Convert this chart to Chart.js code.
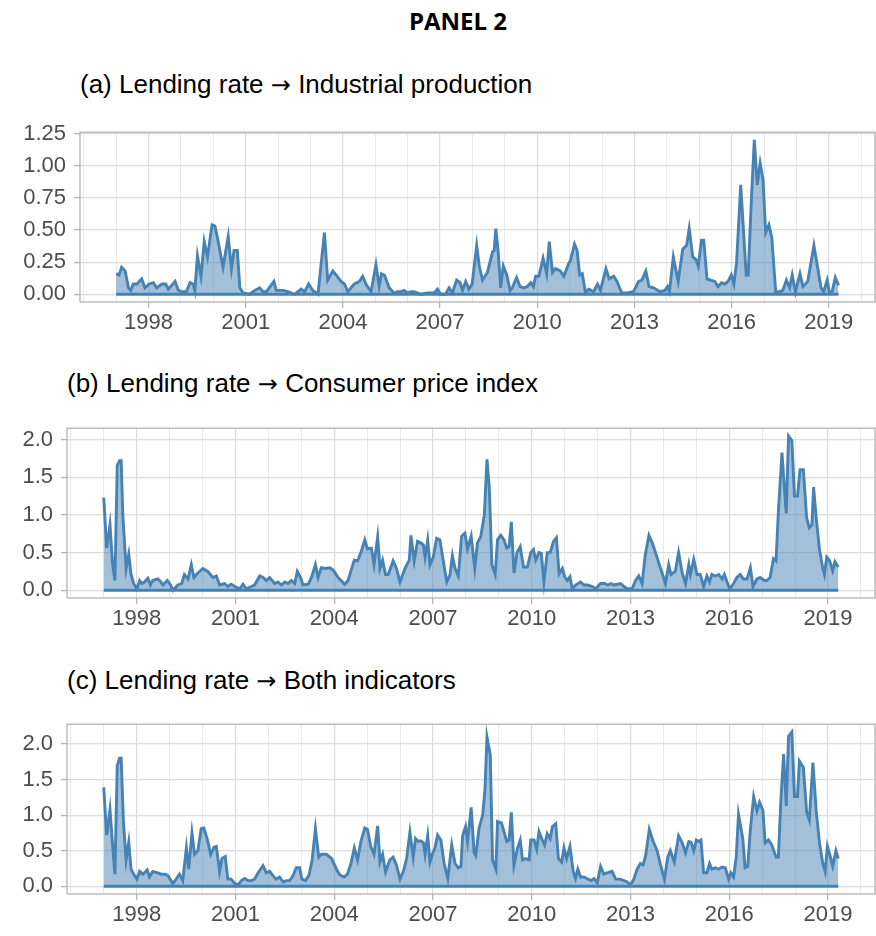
<!DOCTYPE html>
<html>
<head>
<meta charset="utf-8">
<script src="https://cdn.jsdelivr.net/npm/chart.js@4/dist/chart.umd.min.js"></script>
<style>
  body { margin: 0; background: #fff; width: 876px; height: 936px; position: relative; overflow: hidden; }
  .ttl { position: absolute; white-space: nowrap; font-family: "Liberation Sans", Arial, sans-serif; font-size: 26px; line-height: 26px; color: #000; }
  .ttl span { font-family: "DejaVu Sans", sans-serif; font-size: 24px; line-height: 26px; }
  #head { position: absolute; left: 358px; width: 200px; top: 9px; text-align: center; font-family: "Open Sans", sans-serif; font-weight: 700; font-size: 24px; line-height: 24px; }
  canvas { position: absolute; left: 0; }
</style>
</head>
<body>
<div id="head">PANEL 2</div>
<div class="ttl" style="left:80px;top:71px">(a) Lending rate <span>→</span> Industrial production</div>
<div class="ttl" style="left:67px;top:370px">(b) Lending rate <span>→</span> Consumer price index</div>
<div class="ttl" style="left:67px;top:667px">(c) Lending rate <span>→</span> Both indicators</div>
<canvas id="graf_a" width="876" height="231" style="top:111px"></canvas>
<canvas id="graf_b" width="876" height="231" style="top:407px"></canvas>
<canvas id="graf_c" width="876" height="231" style="top:703px"></canvas>
<script>
// x axis: a line each year, a label every 3 years
var gridYears = [1996,1997,1998,1999,2000,2001,2002,2003,2004,2005,2006,2007,2008,2009,2010,2011,2012,2013,2014,2015,2016,2017,2018,2019,2020];
var labelYears = [1998, 2001, 2004, 2007, 2010, 2013, 2016, 2019];

// (a) Lending rate -> Industrial production
var ipDates = [1997.00,1997.09,1997.17,1997.28,1997.38,1997.45,1997.53,1997.64,1997.79,1997.89,
  1998.02,1998.15,1998.25,1998.41,1998.53,1998.61,1998.82,1998.92,1999.02,1999.17,
  1999.28,1999.38,1999.43,1999.51,1999.62,1999.72,1999.82,1999.96,2000.05,2000.15,
  2000.30,2000.46,2000.56,2000.64,2000.74,2000.82,2000.92,2001.12,2001.28,2001.43,
  2001.53,2001.64,2001.87,2001.94,2002.15,2002.30,2002.51,2002.71,2002.82,2002.94,
  2003.07,2003.23,2003.43,2003.53,2003.69,2003.79,2003.94,2004.05,2004.15,2004.35,
  2004.51,2004.61,2004.71,2004.87,2005.02,2005.12,2005.19,2005.28,2005.43,2005.58,
  2005.69,2005.79,2005.89,2005.99,2006.10,2006.20,2006.41,2006.61,2006.82,2006.92,
  2007.02,2007.17,2007.28,2007.38,2007.51,2007.62,2007.69,2007.79,2007.89,2007.99,
  2008.13,2008.21,2008.31,2008.46,2008.62,2008.67,2008.72,2008.79,2008.87,2008.95,
  2009.06,2009.16,2009.23,2009.36,2009.47,2009.59,2009.69,2009.80,2009.88,2009.95,
  2010.05,2010.18,2010.29,2010.37,2010.47,2010.56,2010.72,2010.82,2010.97,2011.02,
  2011.15,2011.23,2011.31,2011.39,2011.49,2011.59,2011.74,2011.86,2011.95,2012.12,
  2012.22,2012.36,2012.46,2012.61,2012.77,2012.97,2013.13,2013.23,2013.35,2013.45,
  2013.59,2013.79,2013.94,2014.02,2014.08,2014.20,2014.35,2014.49,2014.61,2014.69,
  2014.80,2014.90,2014.97,2015.07,2015.14,2015.24,2015.35,2015.48,2015.58,2015.69,
  2015.79,2015.89,2015.99,2016.07,2016.15,2016.28,2016.45,2016.51,2016.61,2016.70,
  2016.79,2016.88,2016.97,2017.05,2017.15,2017.24,2017.36,2017.48,2017.58,2017.69,
  2017.79,2017.87,2017.97,2018.11,2018.20,2018.35,2018.54,2018.66,2018.76,2018.84,
  2018.95,2019.02,2019.10,2019.20,2019.30];
var ipValues = [0.16,0.15,0.21,0.18,0.05,0.03,0.08,0.08,0.12,0.05,
  0.08,0.09,0.05,0.08,0.08,0.04,0.10,0.03,0.02,0.02,
  0.09,0.08,0.03,0.30,0.14,0.41,0.29,0.54,0.53,0.41,
  0.21,0.45,0.20,0.34,0.34,0.05,0.01,0.00,0.03,0.05,
  0.02,0.02,0.10,0.03,0.03,0.02,0.00,0.04,0.02,0.08,
  0.03,0.00,0.48,0.11,0.18,0.15,0.10,0.08,0.02,0.08,
  0.10,0.14,0.08,0.02,0.23,0.06,0.16,0.15,0.05,0.01,
  0.02,0.02,0.03,0.01,0.02,0.02,0.00,0.01,0.01,0.04,
  0.00,0.00,0.05,0.01,0.11,0.09,0.03,0.10,0.04,0.08,
  0.38,0.22,0.11,0.17,0.33,0.34,0.51,0.34,0.05,0.22,
  0.15,0.03,0.05,0.13,0.06,0.05,0.06,0.09,0.06,0.14,
  0.14,0.28,0.16,0.41,0.17,0.20,0.18,0.14,0.24,0.26,
  0.39,0.34,0.15,0.16,0.01,0.04,0.02,0.08,0.03,0.20,
  0.12,0.14,0.10,0.01,0.01,0.02,0.10,0.11,0.18,0.06,
  0.05,0.02,0.03,0.06,0.02,0.29,0.10,0.35,0.38,0.51,
  0.29,0.27,0.22,0.42,0.42,0.12,0.11,0.10,0.06,0.09,
  0.08,0.10,0.15,0.08,0.24,0.85,0.15,0.15,0.74,1.20,
  0.85,1.02,0.89,0.48,0.54,0.44,0.02,0.02,0.03,0.11,
  0.05,0.15,0.02,0.16,0.06,0.10,0.38,0.20,0.05,0.02,
  0.11,0.01,0.02,0.13,0.07];

// (b) Lending rate -> Consumer price index
var cpiDates = [1997.00,1997.09,1997.19,1997.27,1997.34,1997.41,1997.48,1997.53,1997.58,1997.68,
  1997.76,1997.83,1997.91,1998.01,1998.09,1998.16,1998.24,1998.34,1998.42,1998.49,
  1998.64,1998.72,1998.80,1998.93,1999.03,1999.10,1999.25,1999.37,1999.45,1999.56,
  1999.66,1999.74,1999.86,2000.01,2000.16,2000.32,2000.42,2000.52,2000.67,2000.77,
  2000.87,2000.98,2001.13,2001.23,2001.33,2001.48,2001.58,2001.74,2001.84,2001.94,
  2002.04,2002.19,2002.29,2002.40,2002.50,2002.60,2002.70,2002.80,2002.88,2002.98,
  2003.05,2003.21,2003.31,2003.43,2003.51,2003.61,2003.71,2003.87,2003.97,2004.12,
  2004.32,2004.42,2004.61,2004.71,2004.81,2004.93,2005.01,2005.13,2005.21,2005.32,
  2005.39,2005.47,2005.56,2005.64,2005.79,2005.89,2006.00,2006.15,2006.28,2006.33,
  2006.43,2006.53,2006.63,2006.71,2006.76,2006.84,2006.91,2007.01,2007.11,2007.21,
  2007.31,2007.42,2007.52,2007.59,2007.67,2007.77,2007.87,2007.97,2008.05,2008.16,
  2008.27,2008.35,2008.45,2008.56,2008.64,2008.71,2008.79,2008.89,2008.96,2009.06,
  2009.16,2009.24,2009.31,2009.38,2009.46,2009.55,2009.65,2009.75,2009.87,2009.97,
  2010.05,2010.12,2010.22,2010.29,2010.37,2010.47,2010.56,2010.66,2010.75,2010.83,
  2010.93,2011.00,2011.08,2011.16,2011.23,2011.33,2011.48,2011.59,2011.69,2011.84,
  2011.94,2012.09,2012.21,2012.31,2012.41,2012.49,2012.60,2012.70,2012.80,2012.90,
  2013.05,2013.15,2013.25,2013.35,2013.45,2013.56,2013.66,2013.76,2013.86,2013.96,
  2014.06,2014.16,2014.23,2014.36,2014.46,2014.57,2014.67,2014.77,2014.82,2014.92,
  2015.02,2015.12,2015.22,2015.32,2015.40,2015.47,2015.58,2015.68,2015.78,2015.85,
  2015.93,2016.01,2016.13,2016.23,2016.33,2016.43,2016.54,2016.64,2016.72,2016.84,
  2016.94,2017.06,2017.14,2017.24,2017.34,2017.42,2017.49,2017.60,2017.73,2017.80,
  2017.90,2017.98,2018.07,2018.15,2018.25,2018.35,2018.43,2018.51,2018.56,2018.64,
  2018.74,2018.84,2018.89,2018.96,2019.04,2019.14,2019.21,2019.31];
var cpiValues = [1.23,0.56,0.87,0.34,0.13,1.66,1.72,1.72,1.00,0.29,
  0.48,0.21,0.09,0.02,0.13,0.09,0.11,0.16,0.07,0.13,
  0.15,0.12,0.07,0.13,0.07,0.00,0.07,0.09,0.21,0.15,
  0.34,0.17,0.23,0.29,0.25,0.17,0.19,0.07,0.09,0.05,
  0.08,0.05,0.02,0.08,0.02,0.05,0.07,0.19,0.17,0.13,
  0.17,0.09,0.11,0.07,0.11,0.09,0.13,0.09,0.25,0.17,
  0.07,0.08,0.17,0.34,0.17,0.30,0.29,0.30,0.27,0.17,
  0.08,0.13,0.40,0.39,0.50,0.67,0.55,0.56,0.34,0.71,
  0.29,0.40,0.21,0.21,0.39,0.29,0.11,0.29,0.40,0.73,
  0.39,0.65,0.63,0.60,0.44,0.67,0.34,0.44,0.69,0.67,
  0.40,0.11,0.21,0.46,0.29,0.19,0.72,0.76,0.55,0.72,
  0.29,0.63,0.71,1.00,1.74,1.37,0.34,0.21,0.67,0.73,
  0.67,0.56,0.58,0.91,0.23,0.50,0.58,0.31,0.31,0.50,
  0.54,0.40,0.50,0.49,0.11,0.50,0.50,0.65,0.70,0.22,
  0.29,0.18,0.13,0.18,0.02,0.07,0.11,0.07,0.07,0.05,
  0.02,0.09,0.09,0.07,0.09,0.07,0.08,0.09,0.05,0.02,
  0.02,0.13,0.19,0.09,0.48,0.73,0.63,0.50,0.36,0.23,
  0.09,0.34,0.21,0.25,0.50,0.23,0.09,0.34,0.21,0.41,
  0.21,0.21,0.05,0.19,0.11,0.21,0.19,0.21,0.15,0.21,
  0.11,0.02,0.09,0.17,0.21,0.15,0.15,0.30,0.05,0.15,
  0.17,0.13,0.13,0.17,0.42,0.39,1.04,1.83,1.02,2.05,
  1.99,1.25,1.25,1.60,1.60,0.96,0.83,0.87,1.37,0.96,
  0.54,0.29,0.21,0.44,0.40,0.26,0.38,0.31];

// (c) Lending rate -> Both indicators
var bothDates = [1997.00,1997.09,1997.19,1997.27,1997.34,1997.41,1997.48,1997.53,1997.60,1997.68,
  1997.76,1997.83,1997.91,1998.01,1998.09,1998.19,1998.32,1998.39,1998.49,1998.64,
  1998.74,1998.87,1998.95,1999.10,1999.20,1999.30,1999.40,1999.51,1999.58,1999.68,
  1999.76,1999.86,1999.96,2000.04,2000.14,2000.25,2000.35,2000.42,2000.52,2000.59,
  2000.69,2000.77,2000.87,2000.98,2001.08,2001.18,2001.28,2001.38,2001.48,2001.58,
  2001.69,2001.84,2001.94,2002.04,2002.14,2002.24,2002.34,2002.45,2002.55,2002.65,
  2002.75,2002.85,2002.95,2003.02,2003.13,2003.23,2003.33,2003.43,2003.53,2003.61,
  2003.76,2003.92,2004.07,2004.17,2004.30,2004.40,2004.51,2004.61,2004.71,2004.81,
  2004.93,2005.01,2005.11,2005.21,2005.32,2005.39,2005.47,2005.56,2005.69,2005.79,
  2005.89,2006.00,2006.10,2006.20,2006.30,2006.40,2006.47,2006.55,2006.63,2006.71,
  2006.76,2006.84,2006.91,2006.98,2007.06,2007.14,2007.24,2007.34,2007.45,2007.57,
  2007.67,2007.77,2007.85,2007.90,2007.99,2008.05,2008.16,2008.25,2008.30,2008.40,
  2008.51,2008.58,2008.64,2008.74,2008.81,2008.91,2008.96,2009.08,2009.16,2009.24,
  2009.31,2009.38,2009.46,2009.57,2009.65,2009.72,2009.82,2009.92,2009.97,2010.07,
  2010.15,2010.22,2010.32,2010.39,2010.47,2010.56,2010.63,2010.73,2010.81,2010.91,
  2010.98,2011.06,2011.16,2011.26,2011.33,2011.40,2011.48,2011.59,2011.71,2011.81,
  2011.89,2011.99,2012.09,2012.19,2012.29,2012.44,2012.55,2012.68,2012.80,2012.90,
  2013.00,2013.10,2013.20,2013.30,2013.38,2013.46,2013.57,2013.69,2013.81,2013.91,
  2014.03,2014.13,2014.21,2014.33,2014.46,2014.57,2014.67,2014.77,2014.84,2014.92,
  2015.00,2015.07,2015.14,2015.22,2015.32,2015.40,2015.47,2015.58,2015.68,2015.78,
  2015.88,2015.98,2016.05,2016.13,2016.21,2016.28,2016.41,2016.48,2016.56,2016.64,
  2016.74,2016.84,2016.92,2017.02,2017.09,2017.19,2017.29,2017.42,2017.49,2017.57,
  2017.65,2017.73,2017.80,2017.90,2017.98,2018.07,2018.13,2018.25,2018.35,2018.43,
  2018.54,2018.64,2018.74,2018.84,2018.91,2018.98,2019.06,2019.14,2019.24,2019.31];
var bothValues = [1.39,0.72,1.08,0.58,0.17,1.69,1.80,1.80,0.89,0.37,
  0.62,0.24,0.17,0.10,0.21,0.17,0.23,0.13,0.21,0.19,
  0.17,0.17,0.15,0.04,0.10,0.17,0.08,0.54,0.24,0.75,
  0.45,0.50,0.81,0.82,0.67,0.45,0.55,0.56,0.21,0.39,
  0.42,0.10,0.10,0.04,0.02,0.08,0.11,0.08,0.08,0.10,
  0.19,0.29,0.19,0.21,0.15,0.10,0.13,0.06,0.08,0.08,
  0.15,0.26,0.26,0.10,0.08,0.15,0.37,0.81,0.41,0.45,
  0.45,0.39,0.24,0.16,0.13,0.17,0.32,0.54,0.37,0.63,
  0.82,0.80,0.56,0.45,0.85,0.34,0.45,0.20,0.37,0.41,
  0.30,0.10,0.21,0.39,0.76,0.41,0.67,0.63,0.64,0.61,
  0.45,0.71,0.34,0.45,0.54,0.72,0.65,0.32,0.11,0.58,
  0.32,0.26,0.28,0.71,0.84,0.63,1.11,0.47,0.43,0.82,
  1.00,1.37,2.10,1.85,0.37,0.24,0.91,0.89,0.76,0.63,
  0.65,1.04,0.30,0.54,0.65,0.37,0.39,0.37,0.65,0.65,
  0.52,0.77,0.65,0.58,0.74,0.67,0.84,0.88,0.39,0.34,
  0.54,0.39,0.56,0.21,0.11,0.24,0.13,0.13,0.10,0.08,
  0.11,0.05,0.28,0.17,0.19,0.21,0.10,0.10,0.08,0.06,
  0.02,0.10,0.24,0.32,0.30,0.43,0.80,0.63,0.50,0.30,
  0.10,0.41,0.50,0.34,0.71,0.61,0.47,0.63,0.62,0.50,
  0.65,0.63,0.65,0.19,0.19,0.32,0.24,0.26,0.24,0.27,
  0.26,0.10,0.19,0.13,0.41,1.01,0.67,0.26,0.28,0.80,
  1.26,1.06,1.18,1.07,0.61,0.65,0.58,0.41,0.41,1.24,
  1.86,1.13,2.11,2.17,1.26,1.26,1.76,1.67,1.04,0.93,
  1.74,1.06,0.61,0.32,0.21,0.56,0.43,0.28,0.50,0.39];

var blue = '#4682b4';
var fontFam = '"Liberation Sans", Arial, sans-serif';

// panel border like ggplot theme_light
var frame = {
  id: 'frame',
  afterDatasetsDraw: function (chart) {
    var a = chart.chartArea, c = chart.ctx;
    c.save();
    c.strokeStyle = '#b3b3b3';
    c.lineWidth = 1.3;
    c.strokeRect(a.left, a.top, a.right - a.left, a.bottom - a.top);
    c.restore();
  }
};

function panel(id, dates, values, yMax, yStep, digits, leftWidth) {
  var pts = dates.map(function (d, i) { return { x: d, y: values[i] }; });
  var base = [{ x: dates[0], y: 0 }, { x: dates[dates.length - 1], y: 0 }];
  var yTicks = [];
  for (var v = 0; v <= yMax + 1e-9; v += yStep / 2) yTicks.push(Math.round(v * 1000) / 1000);
  var isMajorY = function (v) { return Math.abs(v / yStep - Math.round(v / yStep)) < 1e-6; };
  var top = Math.max.apply(null, values);
  var pad = top * 0.05;

  return new Chart(document.getElementById(id).getContext('2d'), {
    type: 'line',
    data: {
      datasets: [{
        data: pts,
        borderColor: blue,
        borderWidth: 2.9,
        backgroundColor: 'rgba(70,130,180,0.5)',
        fill: 'origin',
        pointRadius: 0,
        tension: 0
      }, {
        data: base,
        borderColor: blue,
        borderWidth: 2.9,
        fill: false,
        pointRadius: 0
      }]
    },
    plugins: [frame],
    options: {
      responsive: false,
      animation: false,
      devicePixelRatio: 1,
      layout: { padding: { top: 10, right: 1, left: 0, bottom: 0 } },
      plugins: { legend: { display: false }, tooltip: { enabled: false } },
      scales: {
        x: {
          type: 'linear',
          min: 1997 - 22.31 * 0.05,
          max: 2019.31 + 22.31 * 0.05,
          afterBuildTicks: function (s) { s.ticks = gridYears.map(function (y) { return { value: y }; }); },
          afterFit: function (s) { s.height = 40; },
          border: { display: false },
          grid: {
            color: function (ctx) { return ctx.tick && labelYears.indexOf(ctx.tick.value) >= 0 ? '#dcdcdc' : '#e8e8e8'; },
            lineWidth: function (ctx) { return ctx.tick && labelYears.indexOf(ctx.tick.value) >= 0 ? 1.2 : 1; },
            tickColor: function (ctx) { return ctx.tick && labelYears.indexOf(ctx.tick.value) >= 0 ? '#b3b3b3' : 'rgba(0,0,0,0)'; },
            tickLength: 6,
            tickWidth: 1.3
          },
          ticks: {
            autoSkip: false,
            maxRotation: 0,
            padding: 2,
            color: '#4d4d4d',
            font: { family: fontFam, size: 22 },
            callback: function (v) { return labelYears.indexOf(v) >= 0 ? String(v) : ''; }
          }
        },
        y: {
          min: -pad,
          max: top + pad,
          afterBuildTicks: function (s) { s.ticks = yTicks.map(function (y) { return { value: y }; }); },
          afterFit: function (s) { s.width = leftWidth; },
          border: { display: false },
          grid: {
            color: function (ctx) { return ctx.tick && isMajorY(ctx.tick.value) ? '#dcdcdc' : '#e8e8e8'; },
            lineWidth: function (ctx) { return ctx.tick && isMajorY(ctx.tick.value) ? 1.2 : 1; },
            tickColor: function (ctx) { return ctx.tick && isMajorY(ctx.tick.value) ? '#b3b3b3' : 'rgba(0,0,0,0)'; },
            tickLength: 6,
            tickWidth: 1.3
          },
          ticks: {
            padding: 8,
            color: '#4d4d4d',
            font: { family: fontFam, size: 22 },
            callback: function (v) { return isMajorY(v) ? v.toFixed(digits) : ''; }
          }
        }
      }
    }
  });
}

panel('graf_a', ipDates, ipValues, 1.25, 0.25, 2, 80);
panel('graf_b', cpiDates, cpiValues, 2.0, 0.5, 1, 67);
panel('graf_c', bothDates, bothValues, 2.0, 0.5, 1, 67);
</script>
</body>
</html>
